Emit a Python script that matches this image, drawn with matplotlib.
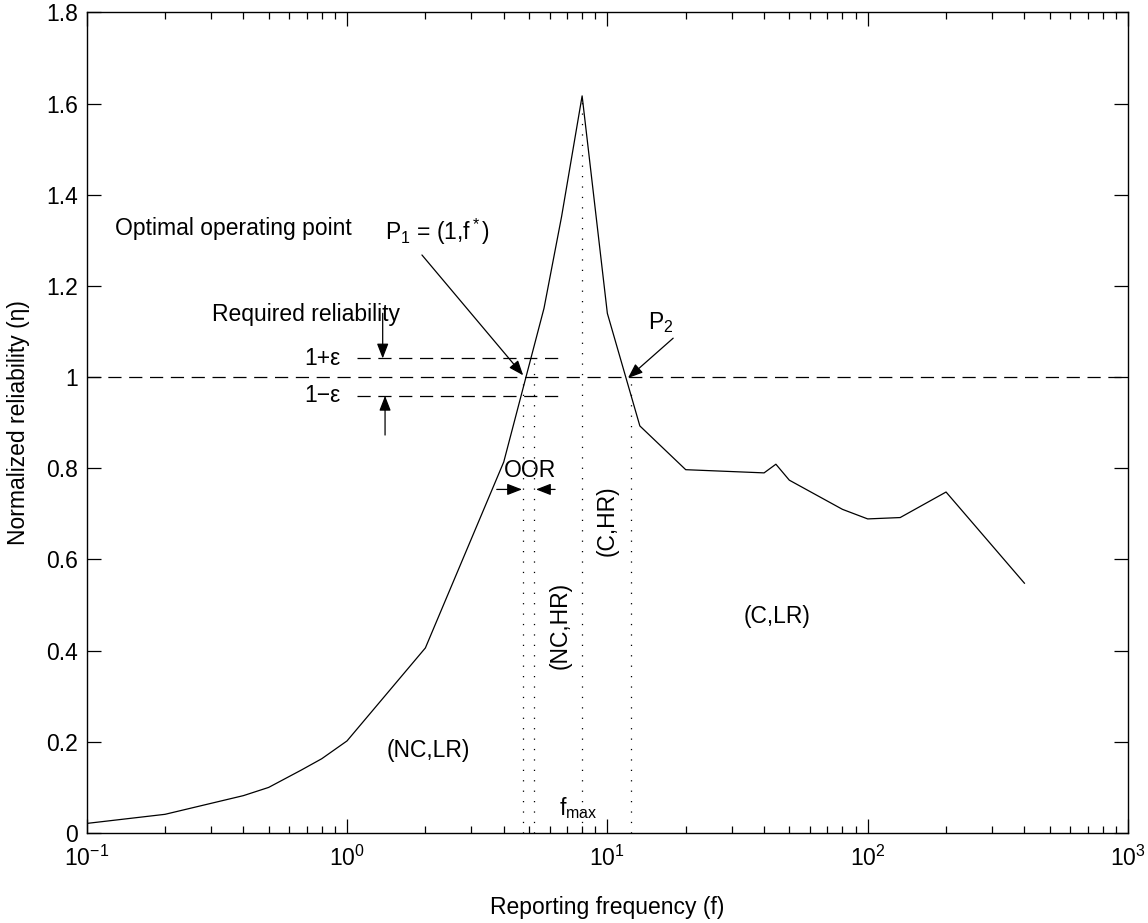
import numpy as np
import matplotlib
matplotlib.use("Agg")
import matplotlib.pyplot as plt
from matplotlib.ticker import FixedLocator, LogLocator, NullFormatter

plt.rcParams['font.family'] = ['Liberation Sans', 'DejaVu Sans']
plt.rcParams['mathtext.fontset'] = 'custom'
plt.rcParams['mathtext.rm'] = 'Liberation Sans'
plt.rcParams['mathtext.it'] = 'Liberation Sans'
plt.rcParams['mathtext.bf'] = 'Liberation Sans'
plt.rcParams['lines.scale_dashes'] = False

# ---- data ----
freq = [0.1, 0.2, 0.4, 0.5, 0.667, 0.8, 1.0, 2.0, 4.0, 5.71, 6.67, 8.0, 10.0,
        13.33, 20.0, 40.0, 44.4, 50.0, 80.0, 100.0, 133.3, 200.0, 400.0]
eta = [0.021, 0.041, 0.082, 0.100, 0.138, 0.163, 0.202, 0.406, 0.814, 1.151,
       1.352, 1.617, 1.140, 0.893, 0.797, 0.790, 0.809, 0.774, 0.710, 0.689,
       0.692, 0.748, 0.548]
required = 1.0
eps = 0.041
eps_span = [1.09, 6.7]
vline_f = [4.73, 5.24, 8.0, 12.33]
vline_top = [1.0, 1.0 + eps, 1.617, 1.0]
yticks = [0, 0.2, 0.4, 0.6, 0.8, 1.0, 1.2, 1.4, 1.6, 1.8]
ytick_labels = ['0', '0.2', '0.4', '0.6', '0.8', '1', '1.2', '1.4', '1.6', '1.8']
xticks = [0.1, 1, 10, 100, 1000]
xtick_labels = [r'10$^{-1}$', r'10$^{0}$', r'10$^{1}$', r'10$^{2}$', r'10$^{3}$']

FS = 16.5

fig = plt.figure(figsize=(11.48, 9.23), dpi=100)
ax = fig.add_axes([0.0755, 0.0975, 0.9071, 0.889])

ax.plot(freq, eta, color='black', lw=0.9)
ax.set_xscale('log')
ax.set_xlim(0.1, 1000)
ax.set_ylim(0, 1.8)

# dashed required-reliability line and epsilon band
ax.axhline(required, color='black', lw=0.9, dashes=(9.5, 5.5))
ax.plot(eps_span, [required + eps] * 2, color='black', lw=0.9, dashes=(9.5, 5.5))
ax.plot(eps_span, [required - eps] * 2, color='black', lw=0.9, dashes=(9.5, 5.5))

# dotted vertical lines
for f, top in zip(vline_f, vline_top):
    ax.plot([f, f], [0, top], color='black', lw=0.9, dashes=(0.9, 6.6))

# ticks
ax.set_yticks(yticks)
ax.set_yticklabels(ytick_labels)
ax.xaxis.set_major_locator(FixedLocator(xticks))
ax.set_xticklabels(xtick_labels)
ax.xaxis.set_minor_locator(LogLocator(base=10, subs=np.arange(2, 10), numticks=20))
ax.xaxis.set_minor_formatter(NullFormatter())
ax.tick_params(which='major', direction='in', length=10, width=0.9, top=True, right=True,
               labelsize=FS)
ax.tick_params(which='minor', direction='in', length=5, width=0.9, top=True, right=True)
ax.tick_params(axis='x', which='major', pad=9)
ax.tick_params(axis='y', which='major', pad=6)
for s in ax.spines.values():
    s.set_linewidth(1.0)

ax.set_xlabel('Reporting frequency (f)', fontsize=FS, labelpad=18)
ax.set_ylabel('Normalized reliability (η)', fontsize=FS, labelpad=12)

# annotations
arrow = dict(arrowstyle='-|>,head_length=0.9,head_width=0.35', color='black', lw=0.9,
             shrinkA=0, shrinkB=0)

ax.text(0.1285, 1.327, 'Optimal operating point', fontsize=FS, ha='left', va='center')
ax.text(1.40, 1.318, r'P$_1$ = (1,f$^*$)', fontsize=FS, ha='left', va='center')
ax.annotate('', xy=(4.75, 1.004), xytext=(1.94, 1.268), arrowprops=arrow)

ax.text(0.302, 1.138, 'Required reliability', fontsize=FS, ha='left', va='center')
ax.annotate('', xy=(1.371, required + eps), xytext=(1.371, 1.14), arrowprops=arrow)
ax.annotate('', xy=(1.40, required - eps), xytext=(1.40, 0.873), arrowprops=arrow)
ax.text(0.94, required + eps, '1+ε', fontsize=FS, ha='right', va='center')
ax.text(0.94, required - eps, '1−ε', fontsize=FS, ha='right', va='center')

ax.text(14.3, 1.12, r'P$_2$', fontsize=FS, ha='left', va='center')
ax.annotate('', xy=(12.0, 0.998), xytext=(17.9, 1.0855), arrowprops=arrow)

ax.text(5.05, 0.796, 'OOR', fontsize=FS, ha='center', va='center')
ax.annotate('', xy=(4.70, 0.7537), xytext=(3.76, 0.7537), arrowprops=arrow)
ax.annotate('', xy=(5.32, 0.7537), xytext=(6.30, 0.7537), arrowprops=arrow)

ax.text(6.58, 0.456, '(NC,HR)', fontsize=FS, ha='center', va='center', rotation=90)
ax.text(9.97, 0.686, '(C,HR)', fontsize=FS, ha='center', va='center', rotation=90)
ax.text(44.9, 0.474, '(C,LR)', fontsize=FS, ha='center', va='center')
ax.text(2.05, 0.18, '(NC,LR)', fontsize=FS, ha='center', va='center')
ax.text(6.5, 0.055, r'f$_{\mathrm{max}}$', fontsize=FS, ha='left', va='center')

fig.savefig('out.png', dpi=100)
